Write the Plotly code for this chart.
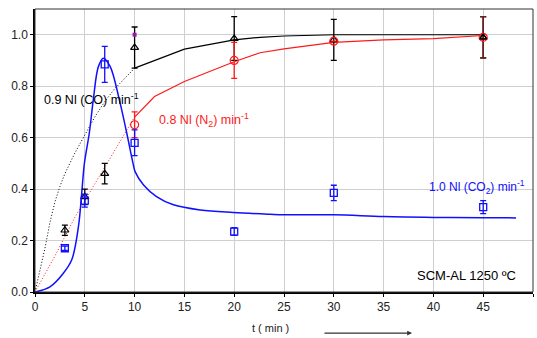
import plotly.graph_objects as go

# ---- measured points ----
t_co = [3, 5, 7, 10, 20, 30, 45]
co_pts = [0.24, 0.37, 0.46, 0.95, 0.985, 0.98, 0.99]
co_err = [0.02, 0.03, 0.04, 0.08, 0.085, 0.08, 0.08]

t_n2 = [10, 20, 30]
n2_pts = [0.65, 0.90, 0.975]
n2_err = [0.05, 0.07, 0.0]
t_n2_last = [45]
n2_last = [0.99]
n2_last_err = [0.08]

t_co2 = [3, 5, 7, 10, 20, 30, 45]
co2_pts = [0.17, 0.355, 0.885, 0.58, 0.235, 0.385, 0.33]
co2_err = [0.008, 0.025, 0.07, 0.05, 0.015, 0.03, 0.025]

t_purple = [10]
purple_pts = [1.0]

# ---- model curves ----
t_co_dot = [0, 0.5, 1, 1.5, 2, 2.5, 3, 3.5, 4, 5, 6, 7, 8, 9, 10]
co_dot = [0, 0.08, 0.17, 0.27, 0.35, 0.41, 0.46, 0.50, 0.54, 0.61, 0.68, 0.74, 0.79, 0.83, 0.87]
t_co_line = [10, 12, 15, 20, 22.6, 25, 30, 35, 40, 45]
co_line = [0.87, 0.90, 0.944, 0.98, 0.99, 0.995, 1.0, 1.0, 1.0, 1.0]

t_n2_dot = [0, 2, 4, 6, 8, 10]
n2_dot = [0, 0.14, 0.29, 0.42, 0.55, 0.68]
t_n2_line = [10, 12, 15, 20, 22.6, 25, 30, 35, 40, 45]
n2_line = [0.68, 0.76, 0.818, 0.895, 0.93, 0.945, 0.97, 0.98, 0.985, 0.997]

t_co2_line = [0, 1.5, 2.85, 3.69, 4.36, 4.69, 4.96, 5.46, 5.86, 6.37, 6.87, 7.54, 8.47, 9.2,
              9.9, 10.05, 10.9, 12.2, 13.9, 16.6, 19.9, 23.6, 25, 30, 35, 40, 45, 48.3]
co2_line = [0, 0.02, 0.073, 0.125, 0.254, 0.384, 0.50, 0.62, 0.75, 0.877, 0.909, 0.877, 0.747, 0.62,
            0.49, 0.468, 0.416, 0.371, 0.339, 0.319, 0.309, 0.302, 0.30, 0.30, 0.293, 0.29, 0.289, 0.288]

x_ticks = [0, 5, 10, 15, 20, 25, 30, 35, 40, 45, 50]
y_ticks = [0.0, 0.2, 0.4, 0.6, 0.8, 1.0]

FONT = "Liberation Sans, Arial, sans-serif"
BLUE = "#1010ff"
RED = "#ff1a1a"
LBL = 12.5

fig = go.Figure()

# curves
fig.add_trace(go.Scatter(x=t_co_dot, y=co_dot, mode="lines",
                         line=dict(color="black", width=1, dash="1px,2px"), hoverinfo="skip"))
fig.add_trace(go.Scatter(x=t_co_line, y=co_line, mode="lines",
                         line=dict(color="black", width=1.2), hoverinfo="skip"))
fig.add_trace(go.Scatter(x=t_n2_dot, y=n2_dot, mode="lines",
                         line=dict(color=RED, width=1, dash="1px,2px"), hoverinfo="skip"))
fig.add_trace(go.Scatter(x=t_n2_line, y=n2_line, mode="lines",
                         line=dict(color=RED, width=1.2), hoverinfo="skip"))
fig.add_trace(go.Scatter(x=t_co2_line, y=co2_line, mode="lines", line_shape="spline",
                         line=dict(color=BLUE, width=1.5), hoverinfo="skip"))

# points
fig.add_trace(go.Scatter(x=t_co, y=co_pts, mode="markers",
                         marker=dict(symbol="triangle-up-open", size=7, color="black",
                                     line=dict(width=1.2)),
                         error_y=dict(type="data", array=co_err, color="black",
                                      thickness=1.3, width=3)))
fig.add_trace(go.Scatter(x=t_n2, y=n2_pts, mode="markers",
                         marker=dict(symbol="circle-open", size=8, color=RED,
                                     line=dict(width=1.2)),
                         error_y=dict(type="data", array=n2_err, color=RED,
                                      thickness=1.3, width=3)))
fig.add_trace(go.Scatter(x=t_n2_last, y=n2_last, mode="markers",
                         marker=dict(symbol="circle-open", size=8, color=RED,
                                     line=dict(width=1.2)),
                         error_y=dict(type="data", array=n2_last_err, color="#6b2020",
                                      thickness=1.6, width=3)))
fig.add_trace(go.Scatter(x=[45], y=[0.99], mode="markers",
                         marker=dict(symbol="triangle-up-open", size=6, color="black",
                                     line=dict(width=1.2))))
fig.add_trace(go.Scatter(x=t_co2, y=co2_pts, mode="markers",
                         marker=dict(symbol="square-open", size=7, color=BLUE,
                                     line=dict(width=1.3)),
                         error_y=dict(type="data", array=co2_err, color=BLUE,
                                      thickness=1.3, width=3)))
fig.add_trace(go.Scatter(x=t_purple, y=purple_pts, mode="markers",
                         marker=dict(symbol="square", size=4, color="#9a1aa8")))

# labels
fig.add_annotation(x=0.7, y=0.75, xref="x", yref="y", xanchor="left", yanchor="middle",
                   text="0.9 Nl (CO) min<sup>-1</sup>", showarrow=False,
                   font=dict(family=FONT, size=LBL, color="black"))
fig.add_annotation(x=12.26, y=0.67, xref="x", yref="y", xanchor="left", yanchor="middle",
                   text="0.8 Nl (N<sub>2</sub>) min<sup>-1</sup>", showarrow=False,
                   font=dict(family=FONT, size=LBL, color=RED))
fig.add_annotation(x=39.4, y=0.41, xref="x", yref="y", xanchor="left", yanchor="middle",
                   text="1.0 Nl (CO<sub>2</sub>) min<sup>-1</sup>", showarrow=False,
                   font=dict(family=FONT, size=12, color=BLUE))
fig.add_annotation(x=38.2, y=0.066, xref="x", yref="y", xanchor="left", yanchor="middle",
                   text="SCM-AL 1250 ºC", showarrow=False,
                   font=dict(family=FONT, size=13, color="black"))
fig.add_annotation(x=0.472, y=-0.127, xref="paper", yref="paper", xanchor="center",
                   yanchor="middle", text="t ( min )", showarrow=False,
                   font=dict(family=FONT, size=11, color="#222"))
fig.add_annotation(x=0.757, y=-0.145, xref="paper", yref="paper", ax=-89, ay=0,
                   axref="pixel", ayref="pixel", text="", showarrow=True,
                   arrowhead=2, arrowsize=0.8, arrowwidth=1.2, arrowcolor="#333")

fig.update_layout(
    width=537, height=338,
    margin=dict(l=35, r=4, t=9, b=46),
    paper_bgcolor="white", plot_bgcolor="white",
    showlegend=False, hovermode=False,
    font=dict(family=FONT, size=12, color="#222"),
)
fig.update_xaxes(range=[0, 50], tickvals=x_ticks, showgrid=True, gridcolor="#cfcfcf",
                 gridwidth=1, showline=True, linecolor="black", linewidth=1.5,
                 mirror=False, ticks="outside", ticklen=3, tickcolor="black",
                 zeroline=False, tickfont=dict(size=12), automargin=False)
fig.update_yaxes(range=[0, 1.1], tickvals=y_ticks, tickformat=".1f", showgrid=True,
                 gridcolor="#cfcfcf", gridwidth=1, showline=True, linecolor="black",
                 linewidth=1.5, ticks="outside", ticklen=3, tickcolor="black",
                 zeroline=False, tickfont=dict(size=12), automargin=False)
fig.add_shape(type="rect", xref="paper", yref="paper", x0=0, y0=0, x1=1, y1=1,
              line=dict(color="#333", width=1))

fig.write_html("out.html", config={"displayModeBar": False},
               post_script="document.body.style.margin='0';document.body.style.overflow='hidden';")
